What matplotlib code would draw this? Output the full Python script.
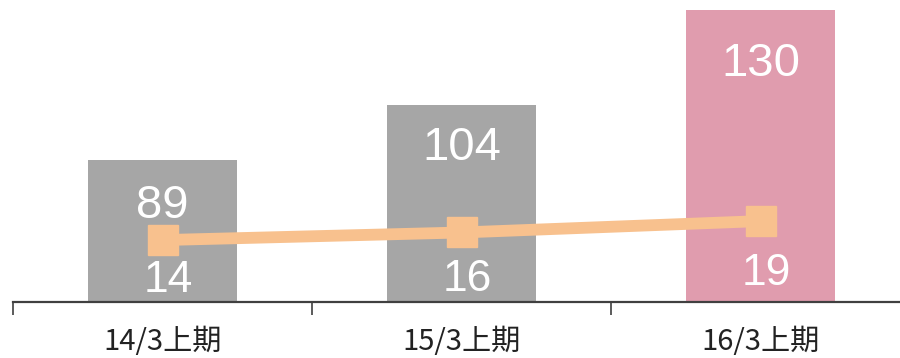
import matplotlib
matplotlib.use("Agg")
import matplotlib.pyplot as plt

categories = ["14/3上期", "15/3上期", "16/3上期"]
bar_values = [89, 104, 130]
line_values = [14, 16, 19]
bar_colors = ["#A6A6A6", "#A6A6A6", "#E09CAE"]
line_color = "#F8C18E"

# label offsets (points) - styling only
bar_label_dy = [-33, -31, -39]
line_label_dy = [-29, -34, -38]

fig = plt.figure(figsize=(9, 3.58), dpi=100)
ax = fig.add_axes([13/900, 56/358, 897/900, 302/358])
ax2 = ax.twinx()

x = list(range(len(categories)))
ax.bar(x, bar_values, width=0.5, color=bar_colors, zorder=1)
ax.set_xlim(-0.5, 2.5)
ax.set_ylim(50.5, 132.6)
ax2.set_ylim(-2.3, 77.2)

ax2.plot(x, line_values, color=line_color, lw=8.5, marker="s", markersize=22,
         solid_capstyle="butt", zorder=3)

for xi, v, dy in zip(x, bar_values, bar_label_dy):
    ax.annotate(str(v), (xi, v), xytext=(0, dy), textcoords="offset points",
                ha="center", va="center", color="white", fontsize=34,
                family="Liberation Sans")
for xi, v, dy in zip(x, line_values, line_label_dy):
    ax2.annotate(str(v), (xi, v), xytext=(4, dy), textcoords="offset points",
                 ha="center", va="center", color="white", fontsize=32,
                 family="Liberation Sans")

for a in (ax, ax2):
    for s in ("top", "right", "left"):
        a.spines[s].set_visible(False)
    a.set_yticks([])
ax2.spines["bottom"].set_visible(False)
ax.spines["bottom"].set_color("#404040")
ax.spines["bottom"].set_linewidth(1.6)

ax.set_xticks(x)
ax.set_xticklabels(categories, family=["Noto Sans CJK JP", "DejaVu Sans"],
                   fontsize=21, color="#222222")
ax.tick_params(axis="x", which="major", length=0, pad=18)
ax.set_xticks([-0.5, 0.5, 1.5, 2.5], minor=True)
ax.tick_params(axis="x", which="minor", length=9, width=1.2, color="#404040",
               direction="out")

fig.savefig("out.png", dpi=100)
